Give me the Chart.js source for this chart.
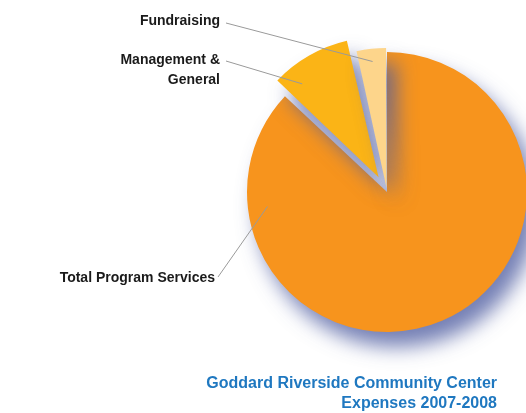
<!DOCTYPE html>
<html>
<head>
<meta charset="utf-8">
<script src="https://cdn.jsdelivr.net/npm/chart.js@4"></script>
<style>
  html, body { margin: 0; padding: 0; background: #fff; }
  canvas { display: block; }
</style>
</head>
<body>
<canvas id="expensesChart" width="526" height="413"></canvas>
<script>
// Expense shares (percent of total)
const categories = ["Total Program Services", "Management & General", "Fundraising"];
const expenseShares = [87, 9.5, 3.5];
const sliceColors = ["#F7941D", "#FBB416", "#FDD58B"];
const sliceOffsets = [0, 68, 16];
const titleLines = ["Goddard Riverside Community Center", "Expenses 2007-2008"];

const pieRadius = 140;

// where each callout label sits and where its leader line lands on the slice
const callouts = [
    { textX: 215, textY: 278, lineFrom: [218, 277], t: 0.84, rf: 0.86 },
    { textX: 220, textY: 60, lineFrom: [226, 61], t: 0.22, rf: 0.91 },
    { textX: 220, textY: 21, lineFrom: [226, 23], t: 0.5, rf: 0.93 }
];

// soft bluish drop shadow under the slices
const shadowPlugin = {
    id: "sliceShadow",
    afterDatasetsUpdate(chart) {
        // keep exploded slices the same size as the main one
        chart.getDatasetMeta(0).data.forEach(arc => {
            const off = (arc.options.offset || 0) / 4;
            const circ = arc.endAngle - arc.startAngle;
            const fix = 1 - Math.sin(Math.min(Math.PI, circ));
            arc.outerRadius = pieRadius - off * fix;
        });
    },
    beforeDatasetsDraw(chart) {
        const ctx = chart.ctx;
        ctx.save();
        ctx.shadowColor = "rgba(78,92,160,0.78)";
        ctx.shadowBlur = 20;
        ctx.shadowOffsetX = 10;
        ctx.shadowOffsetY = 15;
    },
    afterDatasetsDraw(chart) {
        chart.ctx.restore();
    }
};

// callout labels, leader lines and the title block
const calloutPlugin = {
    id: "callouts",
    afterDraw(chart) {
        const ctx = chart.ctx;
        const arcs = chart.getDatasetMeta(0).data;
        ctx.save();
        ctx.font = "bold 14px 'Liberation Sans', Arial, sans-serif";
        ctx.fillStyle = "#1a1a1a";
        ctx.textAlign = "right";
        ctx.textBaseline = "middle";
        callouts.forEach((c, i) => {
            const arc = arcs[i];
            const off = (arc.options.offset || 0) / 4;
            const half = (arc.startAngle + arc.endAngle) / 2;
            const a = arc.startAngle + (arc.endAngle - arc.startAngle) * c.t;
            const r = arc.outerRadius * c.rf;
            const ax = arc.x + Math.cos(half) * off + Math.cos(a) * r;
            const ay = arc.y + Math.sin(half) * off + Math.sin(a) * r;

            const lines = categories[i].replace("& ", "&\n").split("\n");
            lines.forEach((ln, k) => ctx.fillText(ln, c.textX, c.textY + k * 20));

            ctx.strokeStyle = "#9a9a9a";
            ctx.lineWidth = 1;
            ctx.beginPath();
            ctx.moveTo(c.lineFrom[0], c.lineFrom[1]);
            ctx.lineTo(ax, ay);
            ctx.stroke();
        });

        ctx.font = "bold 16px 'Liberation Sans', Arial, sans-serif";
        ctx.fillStyle = "#1F78C0";
        titleLines.forEach((ln, k) => ctx.fillText(ln, 497, 384 + k * 20));
        ctx.restore();
    }
};

new Chart(document.getElementById("expensesChart"), {
    type: "pie",
    data: {
        labels: categories,
        datasets: [{
            data: expenseShares,
            backgroundColor: sliceColors,
            offset: sliceOffsets,
            borderWidth: 0
        }]
    },
    options: {
        responsive: false,
        animation: false,
        radius: pieRadius,
        layout: { padding: { left: 248, right: 0, top: 0, bottom: 29 } },
        plugins: {
            legend: { display: false },
            tooltip: { enabled: false },
            title: { display: false }
        }
    },
    plugins: [shadowPlugin, calloutPlugin]
});
</script>
</body>
</html>
